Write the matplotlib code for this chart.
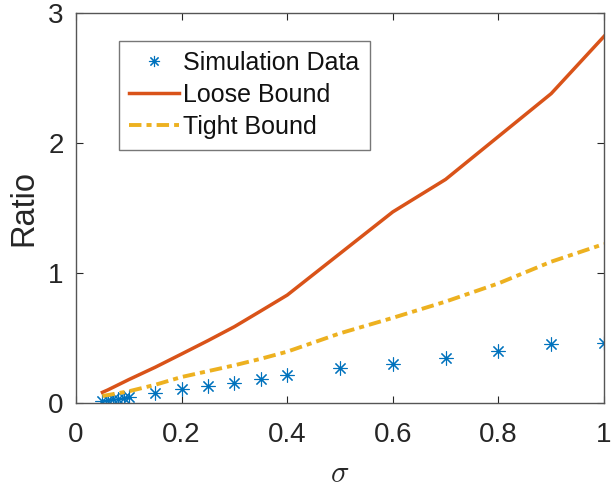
import matplotlib
matplotlib.use("Agg")
import matplotlib.pyplot as plt

plt.rcParams['font.family'] = ['Liberation Sans', 'DejaVu Sans']
plt.rcParams['mathtext.fontset'] = 'cm'

sigma = [0.05, 0.06, 0.07, 0.08, 0.09, 0.10, 0.15, 0.20, 0.25, 0.30,
         0.35, 0.40, 0.50, 0.60, 0.70, 0.80, 0.90, 1.00]
simulation = [0.018, 0.022, 0.027, 0.033, 0.040, 0.047, 0.075, 0.105, 0.134, 0.156,
              0.187, 0.213, 0.267, 0.303, 0.345, 0.400, 0.454, 0.465]
loose_bound = [0.082, 0.10, 0.12, 0.14, 0.16, 0.18, 0.275, 0.377, 0.48, 0.587,
               0.708, 0.83, 1.15, 1.47, 1.72, 2.05, 2.38, 2.82]
tight_bound = [0.054, 0.061, 0.068, 0.076, 0.083, 0.090, 0.14, 0.20, 0.245, 0.29,
               0.34, 0.395, 0.536, 0.655, 0.78, 0.92, 1.087, 1.223]

x_ticks = [0, 0.2, 0.4, 0.6, 0.8, 1]
x_tick_labels = ['0', '0.2', '0.4', '0.6', '0.8', '1']
y_ticks = [0, 1, 2, 3]
y_tick_labels = ['0', '1', '2', '3']

fig = plt.figure(figsize=(6.12, 4.91), dpi=100)
ax = fig.add_axes([76 / 612, 88 / 491, 528 / 612, 390 / 491])

ax.plot(sigma, simulation, linestyle='none', marker=(8, 2, 0), markersize=10,
        markeredgewidth=0.8, color='#0072BD', label='Simulation Data')
ax.plot(sigma, loose_bound, '-', linewidth=2.5, color='#D95319', label='Loose Bound')
ax.plot(sigma, tight_bound, linestyle=(0, (3.2, 1.3, 1.3, 1.3)), linewidth=2.8,
        color='#EDB120', label='Tight Bound')

ax.set_xlim(0, 1)
ax.set_ylim(0, 3)
ax.set_xticks(x_ticks)
ax.set_xticklabels(x_tick_labels)
ax.set_yticks(y_ticks)
ax.set_yticklabels(y_tick_labels)

axis_color = '#262626'
for spine in ax.spines.values():
    spine.set_color('#555555')
    spine.set_linewidth(1.0)
ax.tick_params(direction='in', length=5, width=0.8, colors=axis_color,
               labelsize=20, top=True, right=True)
ax.tick_params(axis='x', pad=14)
ax.tick_params(axis='y', pad=9)
for lab in ax.get_xticklabels() + ax.get_yticklabels():
    lab.set_color(axis_color)

ax.set_xlabel(r'$\sigma$', fontsize=22, color=axis_color, labelpad=8)
ax.set_ylabel('Ratio', fontsize=23.5, color=axis_color, labelpad=6)

leg = ax.legend(loc='upper left', bbox_to_anchor=(0.081, 0.929), borderaxespad=0,
                fontsize=18, frameon=True, fancybox=False, handlelength=2.0,
                handletextpad=0.15, labelspacing=0.32, borderpad=0.42,
                markerscale=0.8)
leg.get_frame().set_edgecolor('#555555')
leg.get_frame().set_linewidth(1.0)
for t in leg.get_texts():
    t.set_color('#111111')

fig.savefig('out.png', dpi=100)
